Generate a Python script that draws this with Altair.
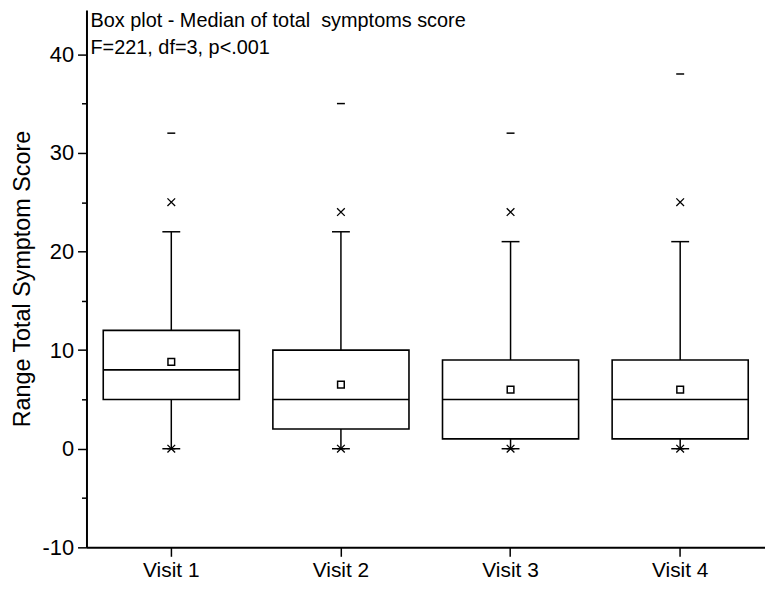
import altair as alt
import pandas as pd

visits = ["Visit 1", "Visit 2", "Visit 3", "Visit 4"]
whisker_low = [0, 0, 0, 0]
q1 = [5, 2, 1, 1]
median = [8, 5, 5, 5]
q3 = [12, 10, 9, 9]
whisker_high = [22, 22, 21, 21]
mean = [8.8, 6.5, 6.0, 6.0]
pct_low = [0, 0, 0, 0]
pct_high = [25, 24, 24, 25]
minimum = [0, 0, 0, 0]
maximum = [32, 35, 32, 38]

title_lines = ["Box plot - Median of total\u00a0 symptoms score", "F=221, df=3, p<.001"]
y_title = "Range Total Symptom Score"
y_ticks = list(range(-10, 45, 5))

df = pd.DataFrame({
    "visit": visits, "lo": whisker_low, "q1": q1, "med": median, "q3": q3,
    "hi": whisker_high, "mean": mean, "plo": pct_low, "phi": pct_high,
    "mn": minimum, "mx": maximum,
})

FONT = "Liberation Sans"

x = alt.X("visit:N", scale=alt.Scale(type="band", domain=visits, paddingInner=0, paddingOuter=0),
          axis=alt.Axis(title=None, labelAngle=0, tickSize=9, tickWidth=1.5, domainWidth=2,
                        labelFontSize=21, labelPadding=3, labelFont=FONT))
yscale = alt.Scale(domain=[-10, 44.5], nice=False, zero=False)

yaxis = alt.Axis(
    title=y_title, values=y_ticks,
    labelExpr="datum.value % 10 === 0 ? '' + datum.value : ''",
    tickSize={"condition": {"test": "datum.value % 10 === 0", "value": 9}, "value": 5},
    tickWidth=1.5, domainWidth=2, grid=False,
    labelFontSize=22, labelFont=FONT, labelPadding=4,
    titleFontSize=23.5, titleFont=FONT, titleFontWeight="normal",
    titleX=-64, titleBaseline="middle",
)

def Y(field, axis=False):
    if axis:
        return alt.Y(f"{field}:Q", scale=yscale, axis=yaxis)
    return alt.Y(f"{field}:Q", scale=yscale)

base = alt.Chart(df)

whisk = base.mark_rule(color="black", strokeWidth=1.5).encode(x=x, y=Y("lo", True), y2="hi:Q")
box = base.mark_bar(fill="white", stroke="black", strokeWidth=1.6, size=137).encode(x=x, y=Y("q1"), y2="q3:Q")
med = base.mark_tick(color="black", size=137, thickness=1.6, opacity=1).encode(x=x, y=Y("med"))
cap_hi = base.mark_tick(color="black", size=18, thickness=1.5, opacity=1).encode(x=x, y=Y("hi"))
cap_lo = base.mark_tick(color="black", size=18, thickness=1.5, opacity=1).encode(x=x, y=Y("lo"))
mean_pt = base.mark_point(shape="square", size=45, filled=False, color="black", strokeWidth=1.5, opacity=1).encode(x=x, y=Y("mean"))
xshape = "M-1,-1L1,1M-1,1L1,-1"
dash = "M-1,0L1,0"
x_hi = base.mark_point(shape=xshape, size=60, filled=False, color="black", strokeWidth=1.3, opacity=1).encode(x=x, y=Y("phi"))
x_lo = base.mark_point(shape=xshape, size=60, filled=False, color="black", strokeWidth=1.3, opacity=1).encode(x=x, y=Y("plo"))
d_hi = base.mark_point(shape=dash, size=64, filled=False, color="black", strokeWidth=1.5, opacity=1).encode(x=x, y=Y("mx"))
d_lo = base.mark_point(shape=dash, size=64, filled=False, color="black", strokeWidth=1.5, opacity=1).encode(x=x, y=Y("mn"))

t1 = alt.Chart(pd.DataFrame({"t": [title_lines[0]]})).mark_text(
    align="left", baseline="middle", fontSize=20, font=FONT, color="black"
).encode(text="t:N", x=alt.value(4), y=alt.value(11))
t2 = alt.Chart(pd.DataFrame({"t": [title_lines[1]]})).mark_text(
    align="left", baseline="middle", fontSize=20, font=FONT, color="black"
).encode(text="t:N", x=alt.value(4), y=alt.value(38))

chart = alt.layer(whisk, box, med, cap_hi, cap_lo, mean_pt, x_hi, x_lo, d_hi, d_lo, t1, t2).properties(
    width=683, height=541,
    autosize=alt.AutoSizeParams(type="none"),
    padding={"left": 79, "top": 0, "right": 0, "bottom": 37},
).configure_view(stroke=None).configure_axis(
    domainColor="black", tickColor="black", labelColor="black", titleColor="black"
)

chart.save("out.html", embed_options={"renderer": "svg", "actions": False})
